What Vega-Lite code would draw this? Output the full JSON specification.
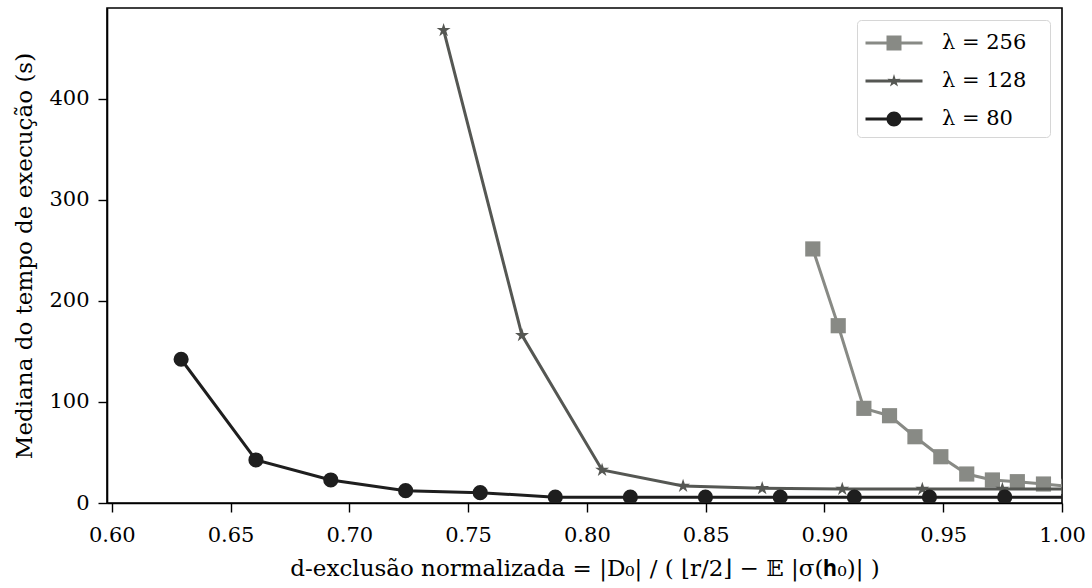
{
  "$schema": "https://vega.github.io/schema/vega-lite/v6.json",
  "width": 955,
  "height": 495,
  "autosize": "none",
  "padding": {"left": 107, "top": 8, "right": 30, "bottom": 85},
  "background": "white",
  "config": {
    "font": "DejaVu Serif",
    "view": {"stroke": "black", "strokeWidth": 1.6},
    "axis": {
      "labelFont": "DejaVu Serif",
      "titleFont": "DejaVu Serif",
      "labelFontSize": 21,
      "titleFontSize": 23,
      "titleFontWeight": "normal",
      "labelColor": "black",
      "titleColor": "black",
      "domainColor": "black",
      "domainWidth": 1.6,
      "tickColor": "black",
      "tickWidth": 1.4,
      "tickSize": 9,
      "grid": false,
      "labelFlush": false,
      "labelOverlap": false
    }
  },
  "datasets": {
    "d": [
      {"series": "λ = 256", "x": 0.8951, "y": 251.5},
      {"series": "λ = 256", "x": 0.9058, "y": 175.5},
      {"series": "λ = 256", "x": 0.9166, "y": 93.7},
      {"series": "λ = 256", "x": 0.9274, "y": 86.4},
      {"series": "λ = 256", "x": 0.9381, "y": 65.6},
      {"series": "λ = 256", "x": 0.949, "y": 45.8},
      {"series": "λ = 256", "x": 0.9599, "y": 28.7},
      {"series": "λ = 256", "x": 0.9707, "y": 22.8},
      {"series": "λ = 256", "x": 0.9812, "y": 21.1},
      {"series": "λ = 256", "x": 0.9922, "y": 18.8},
      {"series": "λ = 256", "x": 1.0029, "y": 16.5},
      {"series": "λ = 128", "x": 0.7397, "y": 468},
      {"series": "λ = 128", "x": 0.7727, "y": 166},
      {"series": "λ = 128", "x": 0.8064, "y": 32.7},
      {"series": "λ = 128", "x": 0.8405, "y": 16.8},
      {"series": "λ = 128", "x": 0.8738, "y": 14.5},
      {"series": "λ = 128", "x": 0.9075, "y": 13.8},
      {"series": "λ = 128", "x": 0.9412, "y": 13.8},
      {"series": "λ = 128", "x": 0.9749, "y": 13.8},
      {"series": "λ = 128", "x": 1.0086, "y": 13.8},
      {"series": "λ = 80", "x": 0.6292, "y": 142.3},
      {"series": "λ = 80", "x": 0.6607, "y": 42.6},
      {"series": "λ = 80", "x": 0.6922, "y": 22.8},
      {"series": "λ = 80", "x": 0.7237, "y": 12.2},
      {"series": "λ = 80", "x": 0.7551, "y": 10.2},
      {"series": "λ = 80", "x": 0.7867, "y": 5.8},
      {"series": "λ = 80", "x": 0.8183, "y": 5.8},
      {"series": "λ = 80", "x": 0.8499, "y": 5.8},
      {"series": "λ = 80", "x": 0.8814, "y": 5.8},
      {"series": "λ = 80", "x": 0.9126, "y": 5.8},
      {"series": "λ = 80", "x": 0.9442, "y": 5.8},
      {"series": "λ = 80", "x": 0.9759, "y": 5.8},
      {"series": "λ = 80", "x": 1.0075, "y": 5.8}
    ]
  },
  "data": {"name": "d"},
  "encoding": {
    "x": {
      "field": "x",
      "type": "quantitative",
      "scale": {"domain": [0.598, 1.0], "nice": false, "zero": false},
      "axis": {
        "title": "d-exclusão normalizada = |D₀| / ( ⌊r/2⌋ − 𝔼 |σ(𝐡₀)| )",
        "values": [0.6, 0.65, 0.7, 0.75, 0.8, 0.85, 0.9, 0.95, 1.0],
        "format": ".2f",
        "labelPadding": 12,
        "titlePadding": 12
      }
    },
    "y": {
      "field": "y",
      "type": "quantitative",
      "scale": {"domain": [0, 490], "nice": false, "zero": false},
      "axis": {
        "title": "Mediana do tempo de execução (s)",
        "values": [0, 100, 200, 300, 400],
        "labelPadding": 9,
        "titlePadding": 12
      }
    },
    "color": {
      "field": "series",
      "type": "nominal",
      "scale": {
        "domain": ["λ = 256", "λ = 128", "λ = 80"],
        "range": ["#888a85", "#555753", "#1e1e1e"]
      },
      "legend": null
    }
  },
  "layer": [
    {
      "mark": {"type": "point", "filled": true, "opacity": 0, "clip": true},
      "encoding": {
        "color": {
          "field": "series",
          "type": "nominal",
          "legend": {
            "title": null,
            "orient": "top-right",
            "offset": 12,
            "padding": 8,
            "strokeColor": "#d6d6d6",
            "fillColor": "white",
            "cornerRadius": 4,
            "symbolSize": 900,
            "symbolOffset": 14,
            "symbolOpacity": 1,
            "symbolStrokeWidth": 0,
            "labelOffset": 33,
            "labelExpr": "datum.label + '\u2800'",
            "labelFont": "DejaVu Serif",
            "labelFontSize": 21,
            "labelColor": "black",
            "rowPadding": 13,
            "encode": {
              "symbols": {"update": {"opacity": {"value": 1}, "fillOpacity": {"value": 1}}}
            }
          }
        },
        "shape": {
          "field": "series",
          "type": "nominal",
          "scale": {
            "domain": ["λ = 256", "λ = 128", "λ = 80"],
            "range": [
              "M-1.9,-0.1H1.9V0.1H-1.9ZM-0.5,-0.5H0.5V0.5H-0.5Z",
              "M-1.9,-0.1H1.9V0.1H-1.9ZM0,-0.46L0.103,-0.141L0.437,-0.142L0.166,0.054L0.27,0.372L0,0.175L-0.27,0.372L-0.166,0.054L-0.437,-0.142L-0.103,-0.141Z",
              "M-1.9,-0.1H1.9V0.1H-1.9ZM-0.5,0A0.5,0.5,0,1,1,0.5,0A0.5,0.5,0,1,1,-0.5,0Z"
            ]
          }
        }
      }
    },
    {
      "transform": [{"filter": "datum.series === 'λ = 256'"}],
      "mark": {"type": "line", "strokeWidth": 3, "clip": true}
    },
    {
      "transform": [{"filter": "datum.series === 'λ = 256'"}],
      "mark": {"type": "point", "filled": true, "opacity": 1, "shape": "square", "size": 230, "clip": true}
    },
    {
      "transform": [{"filter": "datum.series === 'λ = 128'"}],
      "mark": {"type": "line", "strokeWidth": 3, "clip": true}
    },
    {
      "transform": [{"filter": "datum.series === 'λ = 128'"}],
      "mark": {"type": "point", "filled": true, "opacity": 1, "shape": "M0,-1L0.223,-0.307L0.951,-0.309L0.361,0.117L0.588,0.809L0,0.38L-0.588,0.809L-0.361,0.117L-0.951,-0.309L-0.223,-0.307Z", "size": 215, "clip": true}
    },
    {
      "transform": [{"filter": "datum.series === 'λ = 80'"}],
      "mark": {"type": "line", "strokeWidth": 3, "clip": true}
    },
    {
      "transform": [{"filter": "datum.series === 'λ = 80'"}],
      "mark": {"type": "point", "filled": true, "opacity": 1, "shape": "circle", "size": 230, "clip": true}
    }
  ]
}
